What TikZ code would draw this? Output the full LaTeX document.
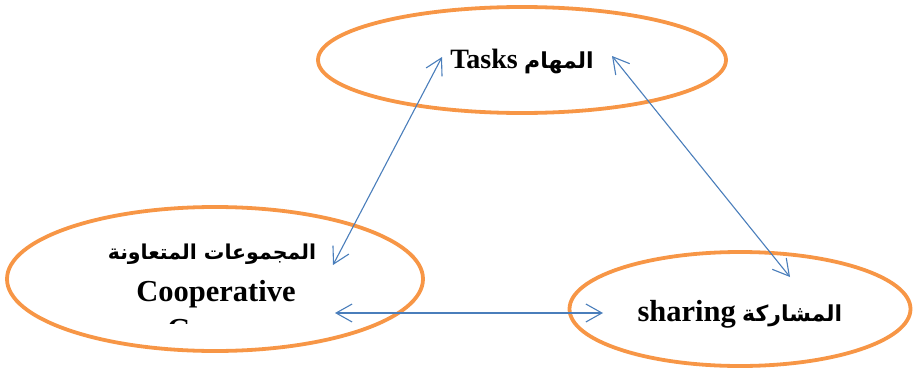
\documentclass[tikz,border=0pt]{standalone}
\usepackage{fontspec}
\setmainfont{Liberation Serif}
\newfontfamily\arabicfont[Script=Arabic]{DejaVu Sans}
\TeXXeTstate=1
\usetikzlibrary{shapes.geometric,arrows.meta}
\definecolor{orng}{HTML}{F79646}
\definecolor{blu}{HTML}{4A7EBB}
\tikzset{
  oval/.style={ellipse, draw=orng, line width=3.8pt, inner sep=0pt},
  lbl/.style={anchor=base, inner sep=0pt, font=\bfseries\fontsize{28}{32}\selectfont},
  biglbl/.style={lbl, font=\bfseries\fontsize{30.5}{34}\selectfont},
  arlbl/.style={anchor=base, inner sep=0pt, font=\arabicfont\bfseries\fontsize{22}{26}\selectfont},
  link/.style={draw=blu, line width=1.1pt, {Straight Barb[length=16pt,width=18pt]}-{Straight Barb[length=16pt,width=18pt]}}
}
\begin{document}
\begin{tikzpicture}[x=1pt,y=-1pt]
\useasboundingbox (0,0) rectangle (913,372);
% ellipses
\node[oval, minimum width=408pt, minimum height=106pt] (tasks) at (522,60) {};
\node[oval, minimum width=416pt, minimum height=144pt] (coop) at (215,279) {};
\node[oval, minimum width=341pt, minimum height=114pt] (share) at (740,309) {};
% texts
\node[lbl, anchor=base east] (tasksen) at (518,68) {Tasks};
\node[arlbl, anchor=base west] (tasksar) at (524,68) {\beginR المهام\endR};
\node[biglbl, anchor=base east] (shareen) at (736,321) {sharing};
\node[arlbl, anchor=base west] (sharear) at (742,321) {\beginR المشاركة\endR};
\node[arlbl, font=\arabicfont\bfseries\fontsize{20.5}{24}\selectfont] (coopar) at (212,259) {\beginR المجموعات المتعاونة\endR};
\node[biglbl] (coopen) at (216,301) {Cooperative};
\begin{scope}
\clip (0,0) rectangle (913,323);
\node[biglbl] (coopen2) at (216,339) {Groups};
\end{scope}
% arrow ends
\coordinate (a1) at (333,265);
\coordinate (a2) at (442,57);
\coordinate (b1) at (612,56);
\coordinate (b2) at (790,277);
\coordinate (c1) at (335,313);
\coordinate (c2) at (603,313);
\draw[link] (a1) -- (a2);
\draw[link] (b1) -- (b2);
\draw[link] (c1) -- (c2);
\end{tikzpicture}
\end{document}
